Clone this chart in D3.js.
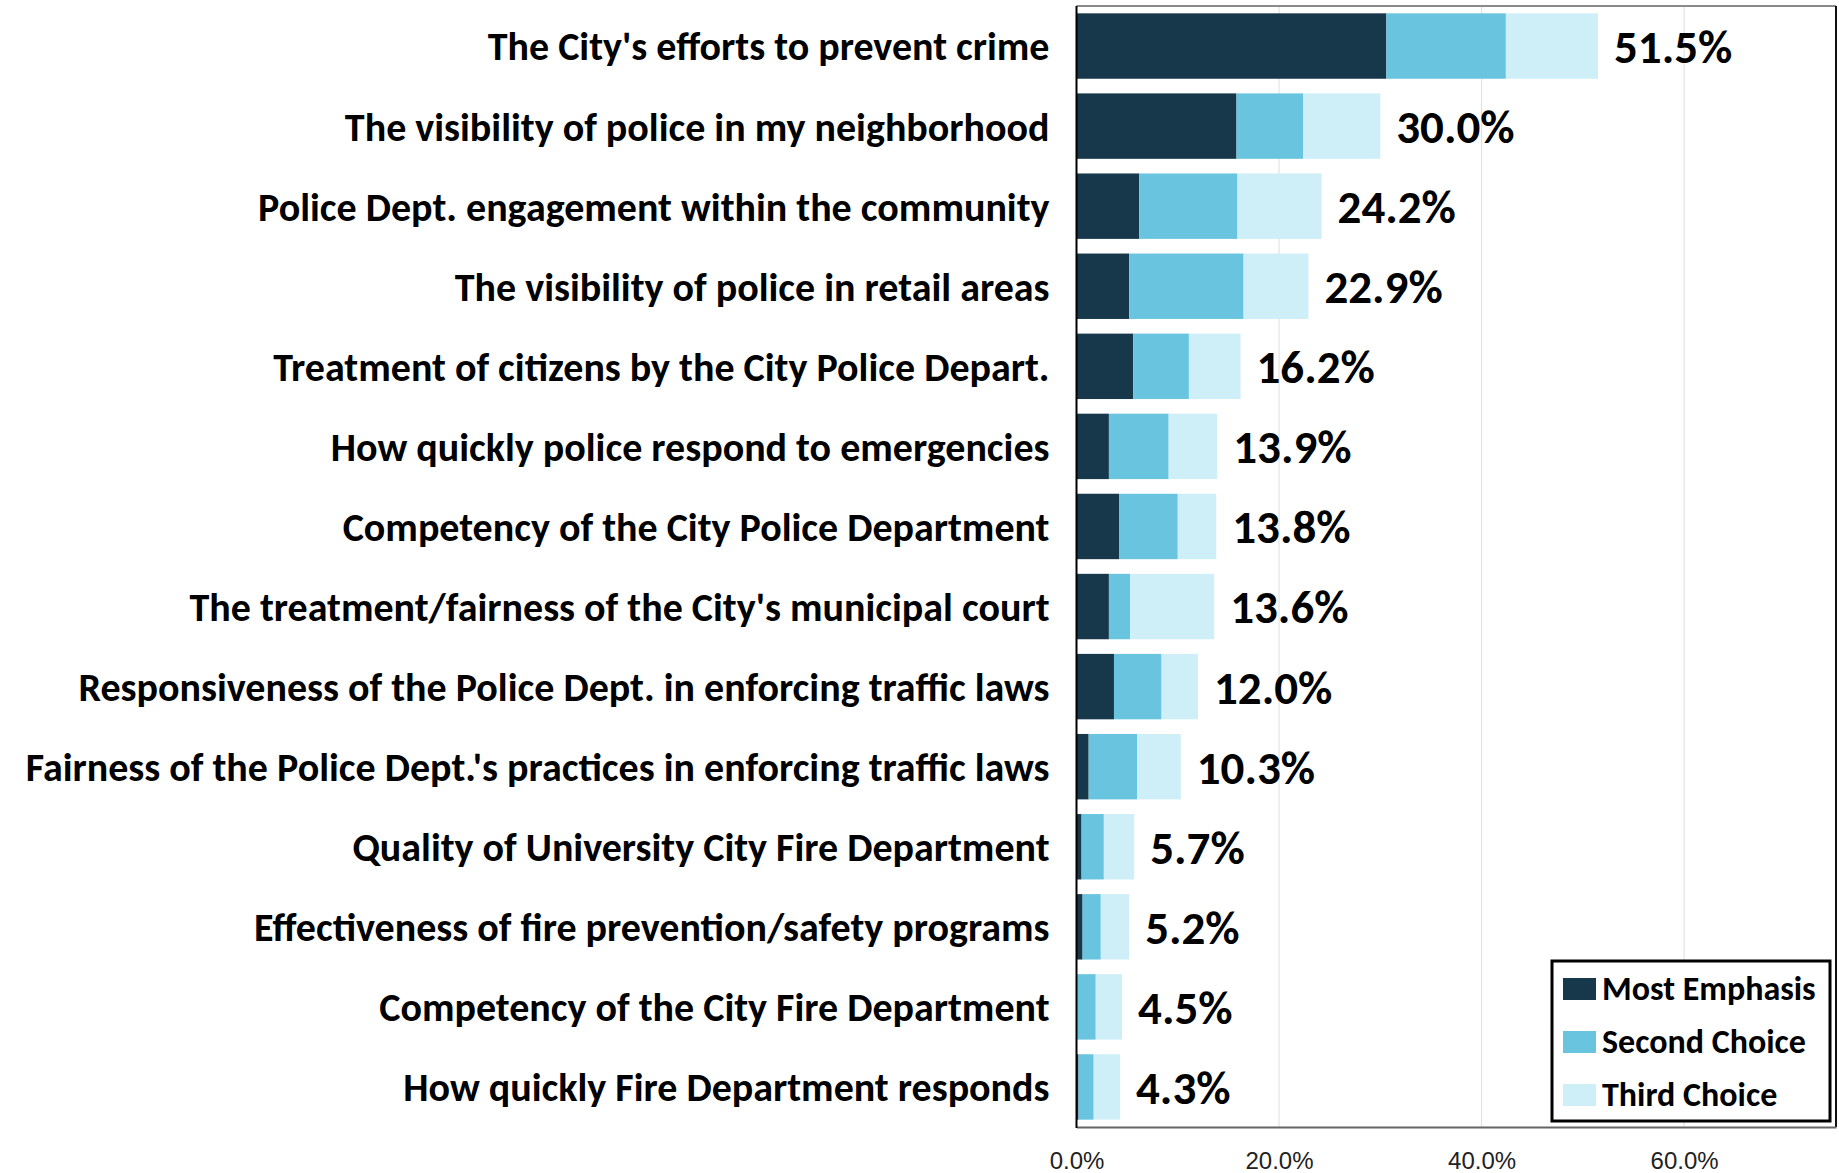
<!DOCTYPE html>
<html>
<head>
<meta charset="utf-8">
<script src="https://cdn.jsdelivr.net/npm/d3@7"></script>
<style>
  body { margin: 0; background: #fff; }
  svg { display: block; font-family: Carlito, Calibri, Lato, sans-serif; }
  .cat { font-weight: bold; font-size: 40px; fill: #000; }
  .total { font-weight: bold; font-size: 47px; fill: #000; }
  .tick text { font-size: 24px; fill: #222; }
  .legend text { font-weight: bold; font-size: 34px; fill: #000; }
</style>
</head>
<body>
<div id="chart"></div>
<script>
// survey items, top to bottom
const categories = [
  "The City's efforts to prevent crime",
  "The visibility of police in my neighborhood",
  "Police Dept. engagement within the community",
  "The visibility of police in retail areas",
  "Treatment of citizens by the City Police Depart.",
  "How quickly police respond to emergencies",
  "Competency of the City Police Department",
  "The treatment/fairness of the City's municipal court",
  "Responsiveness of the Police Dept. in enforcing traffic laws",
  "Fairness of the Police Dept.'s practices in enforcing traffic laws",
  "Quality of University City Fire Department",
  "Effectiveness of fire prevention/safety programs",
  "Competency of the City Fire Department",
  "How quickly Fire Department responds"
]
const seriesNames = ["Most Emphasis", "Second Choice", "Third Choice"]
const mostEmphasis  = [30.6, 15.8, 6.2, 5.2, 5.6, 3.2, 4.2, 3.2, 3.7, 1.2, 0.5, 0.6, 0.0, 0.2]
const secondChoice  = [11.8, 6.6, 9.7, 11.3, 5.5, 5.9, 5.8, 2.1, 4.7, 4.8, 2.2, 1.8, 1.9, 1.5]
const thirdChoice   = [9.1, 7.6, 8.3, 6.4, 5.1, 4.8, 3.8, 8.3, 3.6, 4.3, 3.0, 2.8, 2.6, 2.6]
const totals        = [51.5, 30.0, 24.2, 22.9, 16.2, 13.9, 13.8, 13.6, 12.0, 10.3, 5.7, 5.2, 4.5, 4.3]
const tickValues    = [0, 20, 40, 60]

const colors = ["#17374b", "#69c5df", "#ceeef8"]

window.addEventListener('load', () => {
  let W = 1839, H = 1173
  let left = 1076.5, right = 1836, top = 6, bottom = 1127

  let svg = d3.select('#chart')
    .append('svg')
    .attr('width', W)
    .attr('height', H)
    .attr("xmlns", "http://www.w3.org/2000/svg")

  let x = d3.scaleLinear().domain([0, 75]).range([left, right])
  let y = d3.scaleBand()
    .domain(categories)
    .range([top, bottom])
    .paddingInner(0.183)
    .paddingOuter(0.0915)

  let rows = categories.map((c, i) => ({
    cat: c, vals: [mostEmphasis[i], secondChoice[i], thirdChoice[i]], total: totals[i]
  }))
  let stack = d3.stack()
    .keys([0, 1, 2])
    .value((d, k) => d.vals[k])
  let layers = stack(rows)

  // gridlines
  svg.append('g')
    .selectAll('line')
    .data(tickValues.slice(1))
    .join('line')
    .attr('x1', d => x(d)).attr('x2', d => x(d))
    .attr('y1', top).attr('y2', bottom)
    .attr('stroke', '#dedede')
    .attr('stroke-width', 1)

  // bars
  svg.append('g')
    .selectAll('g')
    .data(layers)
    .join('g')
    .attr('fill', (d, i) => colors[i])
    .selectAll('rect')
    .data(d => d)
    .join('rect')
    .attr('x', d => x(d[0]))
    .attr('width', d => x(d[1]) - x(d[0]))
    .attr('y', d => y(d.data.cat))
    .attr('height', y.bandwidth())

  // plot border: top and right, bottom axis
  svg.append('line')
    .attr('x1', left).attr('x2', right).attr('y1', top).attr('y2', top)
    .attr('stroke', '#8a8a8a').attr('stroke-width', 2)
  svg.append('line')
    .attr('x1', right).attr('x2', right).attr('y1', top).attr('y2', bottom)
    .attr('stroke', '#111').attr('stroke-width', 2)

  let xAxis = svg.append('g')
    .attr('transform', `translate(0,${bottom})`)
    .call(d3.axisBottom(x).tickValues(tickValues).tickSize(0).tickPadding(25)
      .tickFormat(d => d.toFixed(1) + '%'))
  xAxis.select('.domain').attr('stroke', '#666').attr('stroke-width', 2)
  xAxis.selectAll('.tick text').attr('font-family', null)
  xAxis.attr('font-size', null)

  // left axis line
  svg.append('line')
    .attr('x1', left).attr('x2', left).attr('y1', top).attr('y2', bottom + 1)
    .attr('stroke', '#000').attr('stroke-width', 2)

  // category labels
  svg.append('g')
    .selectAll('text')
    .data(rows)
    .join('text')
    .attr('class', 'cat')
    .attr('x', left - 27)
    .attr('y', d => y(d.cat) + y.bandwidth() / 2)
    .attr('dy', '0.36em')
    .attr('text-anchor', 'end')
    .text(d => d.cat)

  // total labels
  svg.append('g')
    .selectAll('text')
    .data(rows)
    .join('text')
    .attr('class', 'total')
    .attr('x', d => x(d.total) + 16)
    .attr('y', d => y(d.cat) + y.bandwidth() / 2)
    .attr('dy', '0.36em')
    .text(d => d.total.toFixed(1) + '%')

  // legend
  let lg = svg.append('g').attr('class', 'legend')
  lg.append('rect')
    .attr('x', 1552).attr('y', 961)
    .attr('width', 278).attr('height', 160)
    .attr('fill', '#fff')
    .attr('stroke', '#000').attr('stroke-width', 3)
  let items = lg.selectAll('g.item')
    .data(seriesNames)
    .join('g')
    .attr('class', 'item')
    .attr('transform', (d, i) => `translate(1563,${978 + i * 53})`)
  items.append('rect')
    .attr('width', 33).attr('height', 22)
    .attr('fill', (d, i) => colors[i])
  items.append('text')
    .attr('x', 39).attr('y', 22)
    .text(d => d)
})
</script>
</body>
</html>
